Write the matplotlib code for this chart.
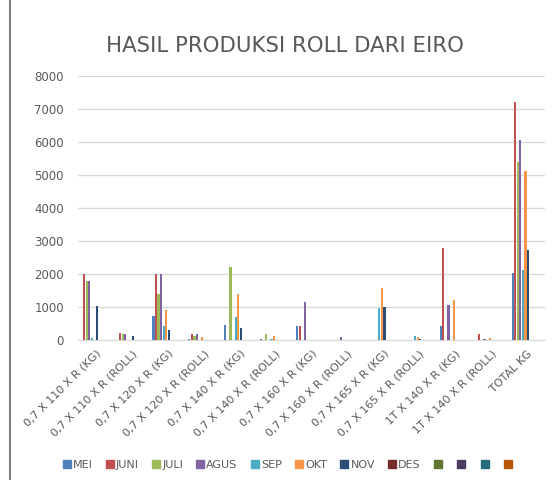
import numpy as np
import matplotlib.pyplot as plt
from matplotlib.lines import Line2D

categories = [
    "0,7 X 110 X R (KG)", "0,7 X 110 X R (ROLL)", "0,7 X 120 X R (KG)",
    "0,7 X 120 X R (ROLL)", "0,7 X 140 X R (KG)", "0,7 X 140 X R (ROLL)",
    "0,7 X 160 X R (KG)", "0,7 X 160 X R (ROLL)", "0,7 X 165 X R (KG)",
    "0,7 X 165 X R (ROLL)", "1T X 140 X R (KG)", "1T X 140 X R (ROLL)",
    "TOTAL KG",
]

series_names = ["MEI", "JUNI", "JULI", "AGUS", "SEP", "OKT", "NOV", "DES", "", "", "", ""]

mei  = [0, 0, 730, 40, 440, 40, 420, 0, 0, 0, 420, 0, 2040]
juni = [2000, 210, 2000, 180, 0, 0, 420, 0, 0, 0, 2800, 180, 7200]
juli = [1780, 180, 1400, 120, 2200, 170, 0, 0, 0, 0, 0, 0, 5400]
agus = [1780, 180, 2000, 180, 0, 0, 1160, 80, 0, 0, 1060, 40, 6060]
sep  = [50, 0, 420, 0, 700, 40, 0, 0, 970, 110, 0, 0, 2120]
okt  = [0, 0, 920, 90, 1400, 110, 0, 0, 1570, 80, 1200, 50, 5130]
nov  = [1040, 120, 290, 0, 360, 0, 0, 0, 1000, 40, 0, 0, 2730]
des  = [0] * 13
s9   = [0] * 13
s10  = [0] * 13
s11  = [0] * 13
s12  = [0] * 13

all_series = [mei, juni, juli, agus, sep, okt, nov, des, s9, s10, s11, s12]
colors = ["#4F81BD", "#C0504D", "#9BBB59", "#8064A2", "#4BACC6", "#F79646",
          "#2C4D75", "#772C2A", "#5F7530", "#4D3B62", "#276A7C", "#B65708"]

fig = plt.figure(figsize=(5.52, 4.8), dpi=100)
ax = fig.add_axes([0.141, 0.2917, 0.846, 0.5503])

x = np.arange(len(categories))
n = len(all_series)
bar_w = 0.072
for i, (vals, c) in enumerate(zip(all_series, colors)):
    offs = (i - (n - 1) / 2) * bar_w
    ax.bar(x + offs, vals, width=bar_w * 0.85, color=c, zorder=3)

ax.set_xlim(-0.5, len(categories) - 0.5)
ax.set_ylim(0, 8000)
ax.set_yticks(range(0, 8001, 1000))
ax.set_yticklabels([str(v) for v in range(0, 8001, 1000)], fontsize=8.5, color="#595959")
ax.yaxis.grid(True, color="#D9D9D9", linewidth=1, zorder=0)
ax.set_xticks(x)
ax.set_xticklabels(categories, rotation=45, ha="right", rotation_mode="anchor",
                   fontsize=8, color="#595959")
ax.tick_params(axis="y", length=0, pad=10)
ax.tick_params(axis="x", length=0, pad=6)
for s in ["top", "right", "left"]:
    ax.spines[s].set_visible(False)
ax.spines["bottom"].set_color("#D9D9D9")

fig.text(0.517, 0.905, "HASIL PRODUKSI ROLL DARI EIRO", ha="center", va="center",
         fontsize=15.3, color="#595959")

handles = [Line2D([], [], marker="s", linestyle="none", markersize=6,
                  color=c) for c in colors]
fig.legend(handles, series_names, loc="center", bbox_to_anchor=(0.522, 0.032),
           ncol=12, frameon=False, fontsize=8, labelcolor="#595959",
           handletextpad=0.15, columnspacing=1.15, handlelength=0.8)

# left border of the chart frame
fig.add_artist(Line2D([0.019, 0.019], [0, 1], transform=fig.transFigure,
                      color="#7F7F7F", linewidth=1.5))

fig.savefig("out.png", dpi=100)
